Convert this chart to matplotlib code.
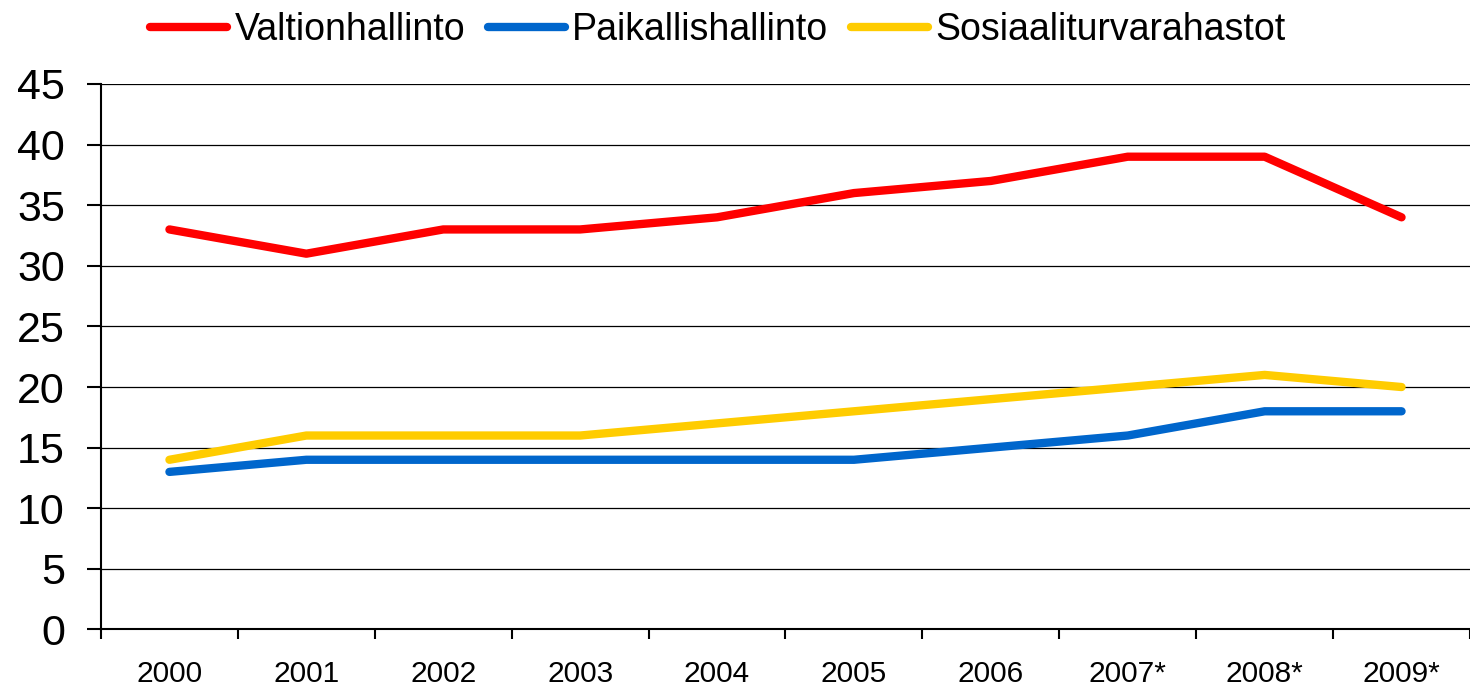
import numpy as np
import matplotlib.pyplot as plt

plt.rcParams['font.family'] = ['Liberation Sans', 'DejaVu Sans']

vuodet = ["2000", "2001", "2002", "2003", "2004", "2005", "2006", "2007*", "2008*", "2009*"]
valtionhallinto = [33, 31, 33, 33, 34, 36, 37, 39, 39, 34]
paikallishallinto = [13, 14, 14, 14, 14, 14, 15, 16, 18, 18]
sosiaaliturva = [14, 16, 16, 16, 17, 18, 19, 20, 21, 20]

fig = plt.figure(figsize=(14.7, 6.9), dpi=100)
ax = fig.add_axes([0.0687, 0.0877, 0.9313, 0.7906])

x = np.arange(len(vuodet))
ax.plot(x, valtionhallinto, color="#FF0000", lw=6, solid_capstyle="round", label="Valtionhallinto")
ax.plot(x, paikallishallinto, color="#0066CC", lw=6, solid_capstyle="round", label="Paikallishallinto")
ax.plot(x, sosiaaliturva, color="#FFCC00", lw=6, solid_capstyle="round", label="Sosiaaliturvarahastot")

ax.set_xlim(-0.5, len(vuodet) - 0.5)
ax.set_ylim(0, 45)
ax.set_yticks(range(0, 46, 5))
ax.yaxis.grid(True, color="black", lw=0.9)
ax.set_axisbelow(True)

# vuosiväliviivat rajoilla, nimet keskellä
ax.set_xticks(np.arange(-0.5, len(vuodet), 1.0))
ax.set_xticklabels([])
ax.set_xticks(x, minor=True)
ax.set_xticklabels(vuodet, minor=True, fontsize=21.5)
ax.tick_params(axis="x", which="major", length=7, width=1.5, direction="out")
ax.tick_params(axis="x", which="minor", length=0, pad=22)
ax.tick_params(axis="y", labelsize=31, length=10, width=1.5, pad=16)

for s in ["top", "right"]:
    ax.spines[s].set_visible(False)
for s in ["left", "bottom"]:
    ax.spines[s].set_linewidth(1.5)

fig.legend(loc="center", bbox_to_anchor=(718 / 1470, 0.956), ncol=3, frameon=False,
           fontsize=27, handlelength=2.05, handletextpad=0.2, columnspacing=0.6)

fig.savefig("out.png", dpi=100)
